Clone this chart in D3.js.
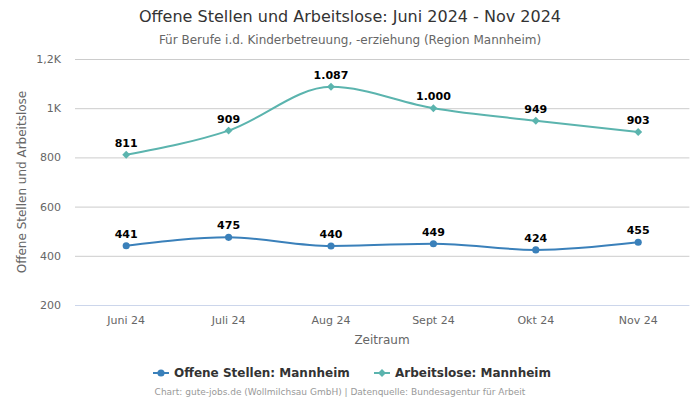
<!DOCTYPE html>
<html><head><meta charset="utf-8">
<script src="https://cdn.jsdelivr.net/npm/d3@7"></script>
<style>body{margin:0;background:#fff;font-family:"DejaVu Sans",sans-serif;}</style>
</head><body><svg id="c" width="700" height="400"></svg>
<script>
const categories = ["Juni 24","Juli 24","Aug 24","Sept 24","Okt 24","Nov 24"];
const offeneStellen = [441,475,440,449,424,455];
const arbeitslose = [811,909,1087,1000,949,903];
const yTicks = [200,400,600,800,1000,1200];
const yTickLabels = ["200","400","600","800","1K","1,2K"];

(function(){
const svg = d3.select("#c");
const pLeft = 75, pRight = 689.4, pTop = 59, pBottom = 305;
const x = d3.scaleBand().domain(categories).range([pLeft,pRight]);
const y = d3.scaleLinear().domain([200,1200]).range([pBottom,pTop]);
const cx = d => x(d) + x.bandwidth()/2;
const fmt = v => v >= 1000 ? d3.format(",")(v).replace(/,/g,".") : String(v);

svg.append("text").attr("x",350).attr("y",22).attr("text-anchor","middle")
  .attr("font-size",16).attr("fill","#333").text("Offene Stellen und Arbeitslose: Juni 2024 - Nov 2024");
svg.append("text").attr("x",350).attr("y",44).attr("text-anchor","middle")
  .attr("font-size",12).attr("fill","#666").text("Für Berufe i.d. Kinderbetreuung, -erziehung (Region Mannheim)");

const yAxis = d3.axisLeft(y).tickValues(yTicks).tickSize(-(pRight-pLeft)).tickFormat((d,i)=>yTickLabels[i]);
const gy = svg.append("g").attr("transform",`translate(${pLeft},0)`).call(yAxis);
gy.select(".domain").remove();
gy.selectAll(".tick line").attr("stroke","#ccc").attr("stroke-width",1);
gy.selectAll(".tick text").attr("font-size",11).attr("fill","#666").attr("x",-14).attr("font-family","DejaVu Sans");
gy.selectAll(".tick").filter(d=>d===200).select("line").attr("stroke","#ccd6eb");

const xAxis = d3.axisBottom(x).tickSize(0);
const gx = svg.append("g").attr("transform",`translate(0,${pBottom})`).call(xAxis);
gx.select(".domain").remove();
gx.selectAll(".tick text").attr("font-size",11).attr("fill","#666").attr("dy","0").attr("y",19).attr("font-family","DejaVu Sans");

svg.append("text").attr("x",382).attr("y",344).attr("text-anchor","middle")
  .attr("font-size",12).attr("fill","#666").text("Zeitraum");
svg.append("text").attr("transform","translate(26,182) rotate(-90)").attr("text-anchor","middle")
  .attr("font-size",12).attr("fill","#666").text("Offene Stellen und Arbeitslose");

const line = d3.line().x((d,i)=>cx(categories[i])).y(d=>y(d)).curve(d3.curveMonotoneX);
const series = [
  {name:"Offene Stellen: Mannheim", values:offeneStellen, color:"#3a80ba", sym:"circle"},
  {name:"Arbeitslose: Mannheim", values:arbeitslose, color:"#5bb4ae", sym:"diamond"}
];
const symFor = s => s==="circle" ? d3.symbol().type(d3.symbolCircle).size(40) : d3.symbol().type(d3.symbolDiamond2).size(40);
series.forEach(s=>{
  svg.append("path").attr("d",line(s.values)).attr("fill","none").attr("stroke",s.color).attr("stroke-width",2);
  svg.append("g").selectAll("path").data(s.values).join("path")
    .attr("d",symFor(s.sym)).attr("fill",s.color)
    .attr("transform",(d,i)=>`translate(${cx(categories[i])},${y(d)})`);
  svg.append("g").selectAll("text").data(s.values).join("text")
    .attr("x",(d,i)=>cx(categories[i])).attr("y",d=>y(d)-8)
    .attr("text-anchor","middle").attr("font-size",11).attr("font-weight","bold").attr("fill","#000")
    .text(fmt);
});

const lg = svg.append("g");
const items = [{s:series[0], x:153},{s:series[1], x:374}];
items.forEach(it=>{
  lg.append("line").attr("x1",it.x).attr("x2",it.x+16).attr("y1",373).attr("y2",373).attr("stroke",it.s.color).attr("stroke-width",2);
  lg.append("path").attr("d",symFor(it.s.sym)).attr("fill",it.s.color).attr("transform",`translate(${it.x+8},373)`);
  lg.append("text").attr("x",it.x+21).attr("y",377).attr("font-size",12).attr("font-weight","bold").attr("fill","#333").text(it.s.name);
});

svg.append("text").attr("x",340).attr("y",395).attr("text-anchor","middle")
  .attr("font-size",9).attr("fill","#999").text("Chart: gute-jobs.de (Wollmilchsau GmbH) | Datenquelle: Bundesagentur für Arbeit");
})();
</script></body></html>
